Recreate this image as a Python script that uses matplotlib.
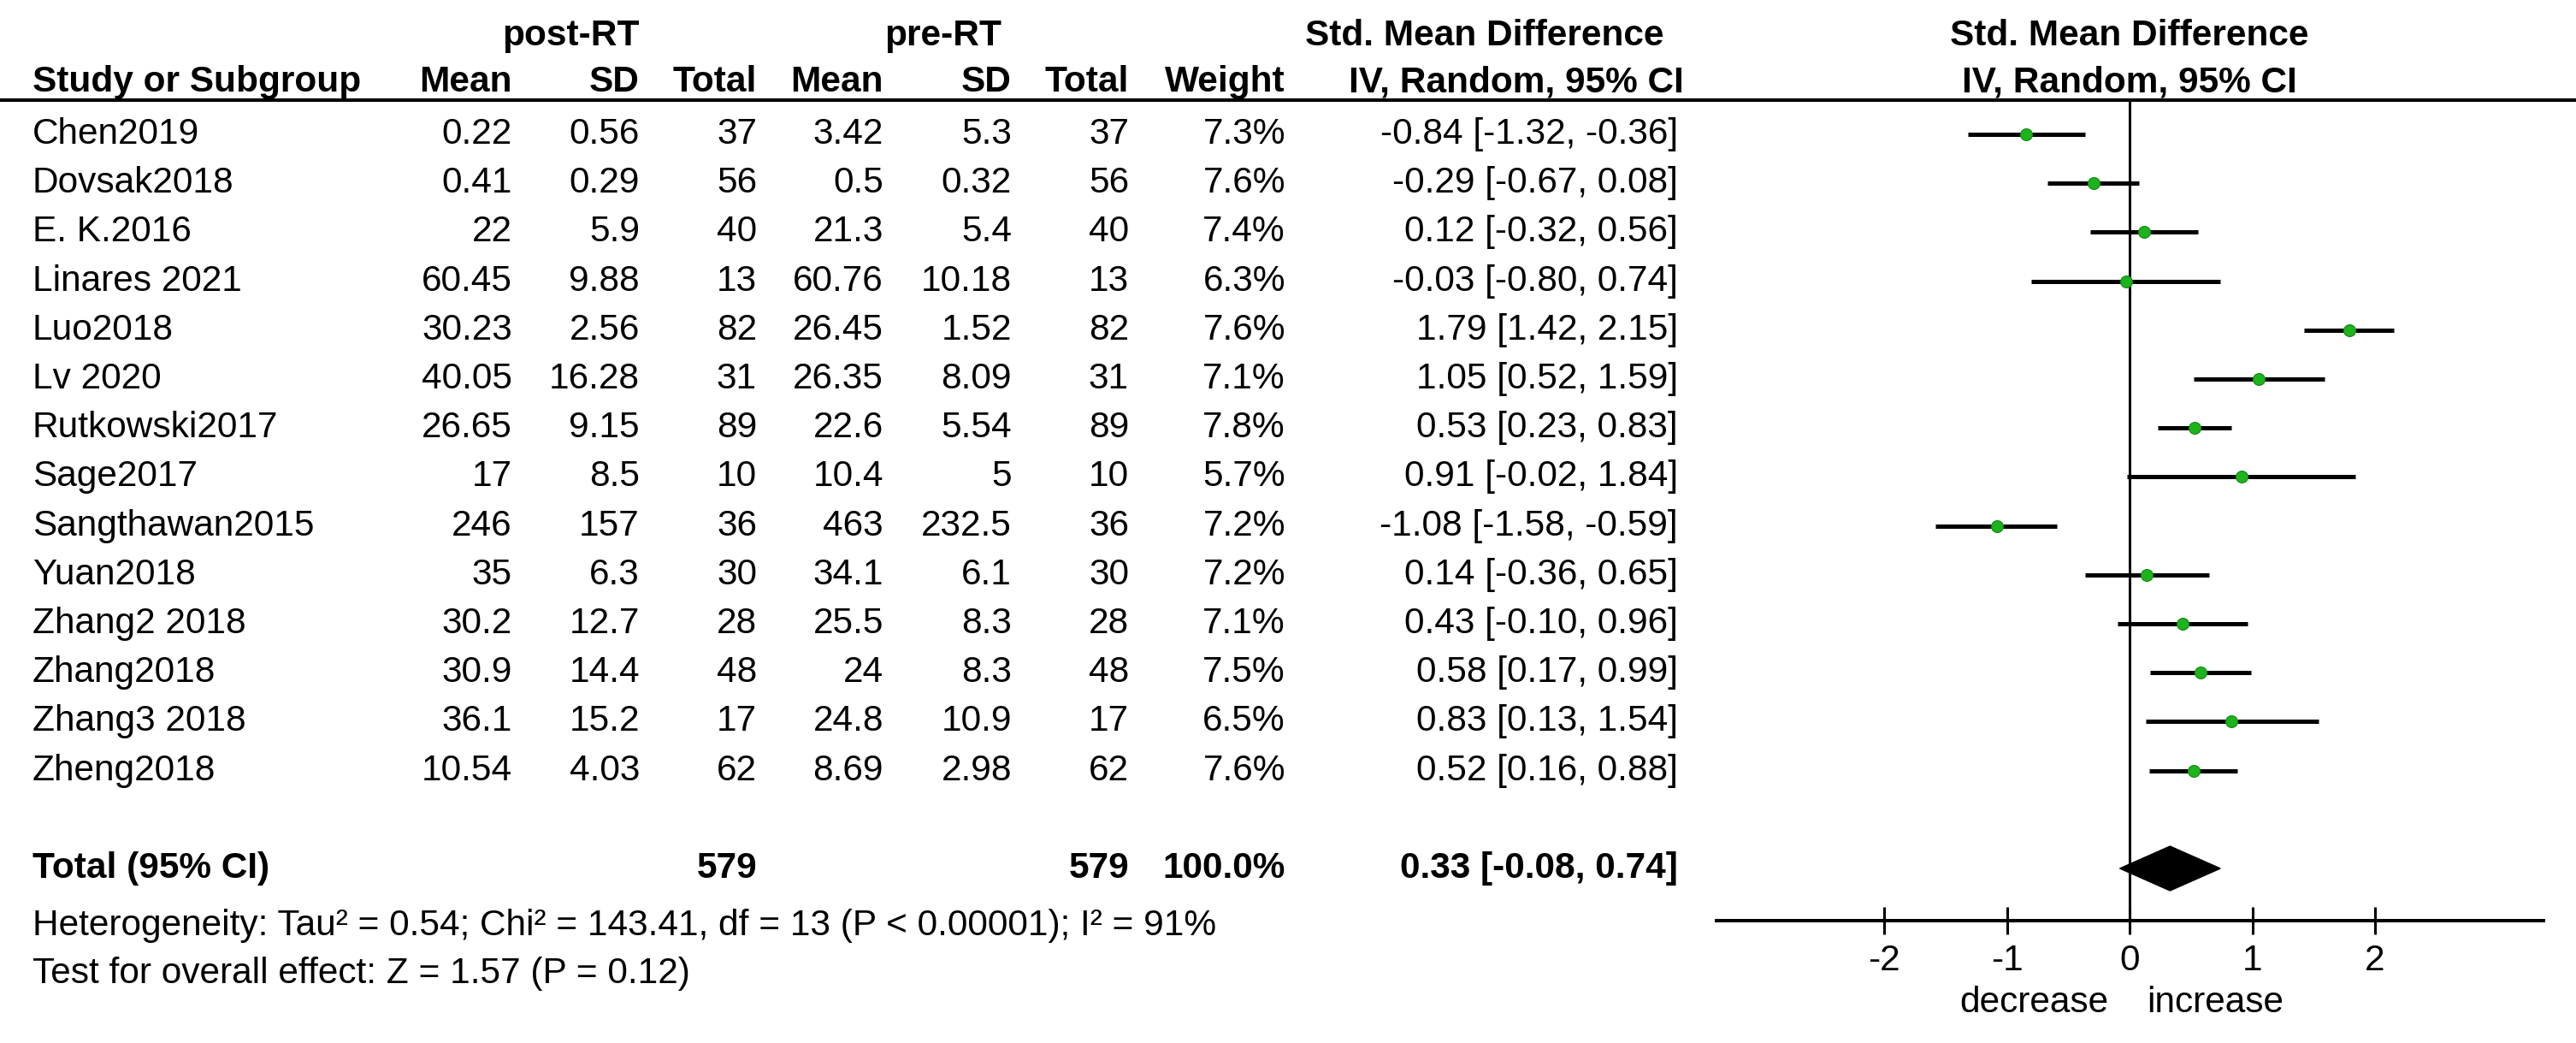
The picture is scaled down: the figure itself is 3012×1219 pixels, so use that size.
import matplotlib
matplotlib.use("Agg")
import matplotlib.pyplot as plt
from matplotlib.patches import Polygon

plt.rcParams['font.family'] = ['Liberation Sans', 'DejaVu Sans']

# data
studies = ["Chen2019", "Dovsak2018", "E. K.2016", "Linares 2021", "Luo2018", "Lv 2020",
           "Rutkowski2017", "Sage2017", "Sangthawan2015", "Yuan2018", "Zhang2 2018",
           "Zhang2018", "Zhang3 2018", "Zheng2018"]
post_mean = [0.22, 0.41, 22, 60.45, 30.23, 40.05, 26.65, 17, 246, 35, 30.2, 30.9, 36.1, 10.54]
post_sd = [0.56, 0.29, 5.9, 9.88, 2.56, 16.28, 9.15, 8.5, 157, 6.3, 12.7, 14.4, 15.2, 4.03]
post_n = [37, 56, 40, 13, 82, 31, 89, 10, 36, 30, 28, 48, 17, 62]
pre_mean = [3.42, 0.5, 21.3, 60.76, 26.45, 26.35, 22.6, 10.4, 463, 34.1, 25.5, 24, 24.8, 8.69]
pre_sd = [5.3, 0.32, 5.4, 10.18, 1.52, 8.09, 5.54, 5, 232.5, 6.1, 8.3, 8.3, 10.9, 2.98]
pre_n = [37, 56, 40, 13, 82, 31, 89, 10, 36, 30, 28, 48, 17, 62]
weight = [7.3, 7.6, 7.4, 6.3, 7.6, 7.1, 7.8, 5.7, 7.2, 7.2, 7.1, 7.5, 6.5, 7.6]
smd = [-0.84, -0.29, 0.12, -0.03, 1.79, 1.05, 0.53, 0.91, -1.08, 0.14, 0.43, 0.58, 0.83, 0.52]
ci_lo = [-1.32, -0.67, -0.32, -0.80, 1.42, 0.52, 0.23, -0.02, -1.58, -0.36, -0.10, 0.17, 0.13, 0.16]
ci_hi = [-0.36, 0.08, 0.56, 0.74, 2.15, 1.59, 0.83, 1.84, -0.59, 0.65, 0.96, 0.99, 1.54, 0.88]
total_weight = 100.0
total_smd, total_lo, total_hi = 0.33, -0.08, 0.74
het_text = "Heterogeneity: Tau² = 0.54; Chi² = 143.41, df = 13 (P < 0.00001); I² = 91%"
test_text = "Test for overall effect: Z = 1.57 (P = 0.12)"
ticks = [-2, -1, 0, 1, 2]

W, H = 3012, 1219
fig = plt.figure(figsize=(W / 100, H / 100), dpi=100)

# text layer in pixel coordinates
ax = fig.add_axes([0, 0, 1, 1])
ax.set_xlim(0, W)
ax.set_ylim(H, 0)
ax.axis('off')

fs = 30.5
row0, step = 157, 57.2
total_row = 15

def row_y(r):
    return row0 + step * r

# headers
hy1, hy2 = 42, 96
ax.text(667, hy1, "post-RT", ha='center', va='center', fontsize=fs, weight='bold')
ax.text(1103, hy1, "pre-RT", ha='center', va='center', fontsize=fs, weight='bold')
ax.text(1736, hy1, "Std. Mean Difference", ha='center', va='center', fontsize=fs, weight='bold')
ax.text(2490, hy1, "Std. Mean Difference", ha='center', va='center', fontsize=fs, weight='bold')
ax.text(38, hy2, "Study or Subgroup", ha='left', va='center', fontsize=fs, weight='bold')
cols_x = [599, 748, 885, 1033, 1183, 1320, 1503]
for x, lab in zip(cols_x, ["Mean", "SD", "Total", "Mean", "SD", "Total", "Weight"]):
    ax.text(x, hy2, lab, ha='right', va='center', fontsize=fs, weight='bold')
ax.text(1773, hy2, "IV, Random, 95% CI", ha='center', va='center', fontsize=fs, weight='bold')
ax.text(2490, hy2, "IV, Random, 95% CI", ha='center', va='center', fontsize=fs, weight='bold')
ax.plot([0, W], [117, 117], color='black', lw=2.9)

# study rows
for i, s in enumerate(studies):
    y = row_y(i)
    ax.text(38, y, s, ha='left', va='center', fontsize=fs)
    vals = [f"{post_mean[i]:g}", f"{post_sd[i]:g}", str(post_n[i]),
            f"{pre_mean[i]:g}", f"{pre_sd[i]:g}", str(pre_n[i]), f"{weight[i]:.1f}%"]
    for x, v in zip(cols_x, vals):
        ax.text(x, y, v, ha='right', va='center', fontsize=fs)
    ax.text(1962, y, f"{smd[i]:.2f} [{ci_lo[i]:.2f}, {ci_hi[i]:.2f}]",
            ha='right', va='center', fontsize=fs)

# total row
yt = row_y(total_row)
ax.text(38, yt, "Total (95% CI)", ha='left', va='center', fontsize=fs, weight='bold')
ax.text(885, yt, str(sum(post_n)), ha='right', va='center', fontsize=fs, weight='bold')
ax.text(1320, yt, str(sum(pre_n)), ha='right', va='center', fontsize=fs, weight='bold')
ax.text(1503, yt, f"{total_weight:.1f}%", ha='right', va='center', fontsize=fs, weight='bold')
ax.text(1962, yt, f"{total_smd:.2f} [{total_lo:.2f}, {total_hi:.2f}]",
        ha='right', va='center', fontsize=fs, weight='bold')
ax.text(38, 1082, het_text, ha='left', va='center', fontsize=fs)
ax.text(38, 1138, test_text, ha='left', va='center', fontsize=fs)

# forest plot
top_px, axis_px = 117, 1076
left_px, right_px = 2007, 2974
fa = fig.add_axes([left_px / W, 1 - axis_px / H, (right_px - left_px) / W, (axis_px - top_px) / H])
x0_px, unit = 2490, 143.5
fa.set_xlim((left_px - x0_px) / unit, (right_px - x0_px) / unit)
fa.set_ylim((axis_px - row0) / step, (top_px - row0) / step)
fa.patch.set_alpha(0)
for side in ['left', 'right', 'top']:
    fa.spines[side].set_visible(False)
fa.spines['bottom'].set_linewidth(2.9)
fa.set_yticks([])
fa.set_xticks(ticks)
fa.set_xticklabels([str(t) for t in ticks])
fa.tick_params(axis='x', direction='inout', length=23, width=2.2, pad=8, labelsize=fs)
fa.axvline(0, color='black', lw=2.2)

rows = list(range(len(studies)))
fa.hlines(rows, ci_lo, ci_hi, color='black', lw=3.6)
fa.plot(smd, rows, 'o', color='#1db31d', markersize=10, markeredgecolor='#108a10',
        markeredgewidth=0.8, zorder=3)

dh = 26 / step
diamond = Polygon([(total_lo, total_row), (total_smd, total_row - dh),
                   (total_hi, total_row), (total_smd, total_row + dh)],
                  closed=True, facecolor='black', edgecolor='black')
fa.add_patch(diamond)

lab_y = (1172 - row0) / step
fa.text(-0.17, lab_y, "decrease", ha='right', va='center', fontsize=fs, clip_on=False)
fa.text(0.14, lab_y, "increase", ha='left', va='center', fontsize=fs, clip_on=False)

fig.savefig("out.png", dpi=100)
